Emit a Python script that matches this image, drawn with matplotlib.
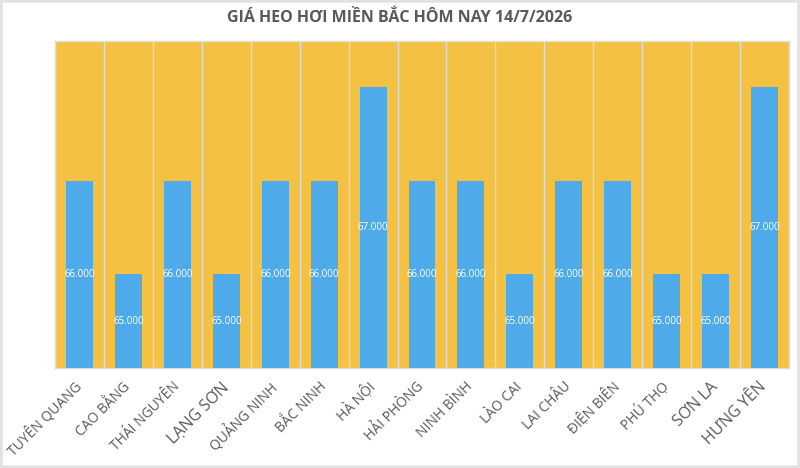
import numpy as np
import matplotlib.pyplot as plt
from matplotlib.patches import Rectangle

provinces = ['TUYÊN QUANG', 'CAO BẰNG', 'THÁI NGUYÊN', 'LẠNG SƠN', 'QUẢNG NINH',
             'BẮC NINH', 'HÀ NỘI', 'HẢI PHÒNG', 'NINH BÌNH', 'LÀO CAI',
             'LAI CHÂU', 'ĐIỆN BIÊN', 'PHÚ THỌ', 'SƠN LA', 'HƯNG YÊN']
prices = [66000, 65000, 66000, 65000, 66000,
          66000, 67000, 66000, 66000, 65000,
          66000, 66000, 65000, 65000, 67000]
title = 'GIÁ HEO HƠI MIỀN BẮC HÔM NAY 14/7/2026'

orange = '#F4C142'
blue = '#4EAAE8'
grey_text = '#595959'
y_min, y_max = 64000, 67500

fig = plt.figure(figsize=(8, 4.68), dpi=100)
ax = fig.add_axes([0.069, 0.214, 0.917, 0.699])
ax.set_facecolor(orange)

x = np.arange(len(provinces))
bars = ax.bar(x, np.array(prices) - y_min, bottom=y_min, width=0.55, color=blue, zorder=3)

for xi, p in zip(x, prices):
    label = f'{p:,}'.replace(',', '.')
    ax.text(xi, (y_min + p) / 2, label, ha='center', va='center',
            color='white', fontsize=7, family='Open Sans', zorder=4)

# white-grey separators between categories
for b in np.arange(len(provinces) + 1) - 0.5:
    ax.axvline(b, color='#DCDCDC', lw=1, zorder=2)

ax.set_xlim(-0.5, len(provinces) - 0.5)
ax.set_ylim(y_min, y_max)
ax.set_yticks([])
ax.set_xticks(x)
ax.set_xticklabels(provinces, rotation=45, ha='right', va='center', rotation_mode='anchor',
                   fontsize=10, color=grey_text, family='Open Sans')
for lbl in ax.get_xticklabels():
    if lbl.get_text() in ('LẠNG SƠN', 'SƠN LA', 'HƯNG YÊN'):
        lbl.set_fontsize(11.5)
ax.tick_params(axis='x', length=0, pad=12)
for s in ax.spines.values():
    s.set_color('#DCDCDC')
    s.set_linewidth(1)

fig.text(0.5, 0.963, title, ha='center', va='center', fontsize=11.5,
         fontweight='bold', color=grey_text, family='Open Sans')

fig.patches.append(Rectangle((0, 0), 1, 1, transform=fig.transFigure,
                             fill=False, edgecolor='#E2E2E2', lw=4))

fig.savefig('out.png', dpi=100)
